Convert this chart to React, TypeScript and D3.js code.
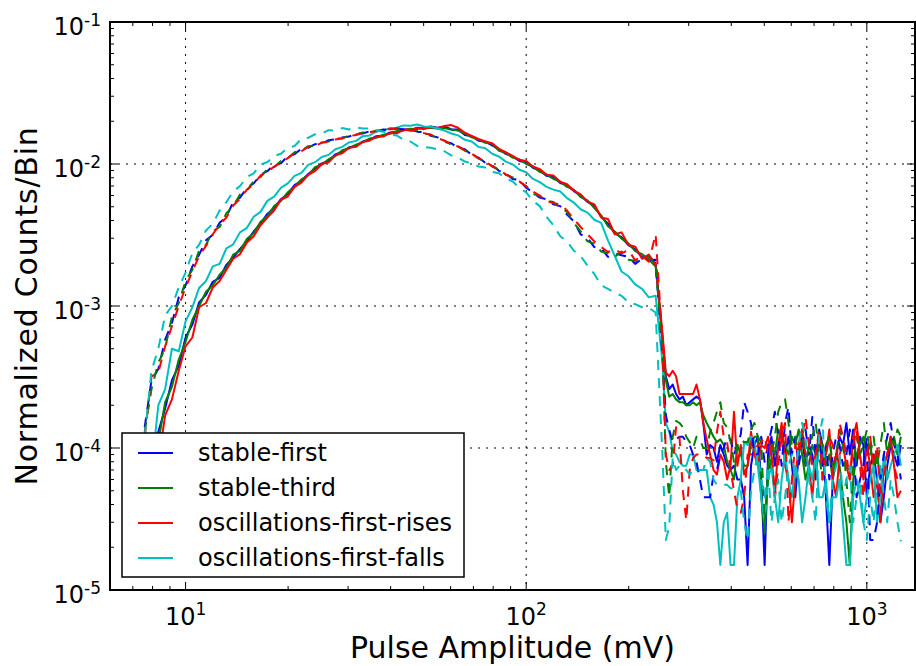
import React from 'react';
import * as d3 from 'd3';

// Bin centres (mV), log-spaced histogram bins
const BIN_MV = [
  7.586, 7.943, 8.318, 8.710, 9.120, 9.550, 10.00, 10.47, 10.96, 11.48,
  12.02, 12.59, 13.18, 13.80, 14.45, 15.14, 15.85, 16.60, 17.38, 18.20,
  19.05, 19.95, 20.89, 21.88, 22.91, 23.99, 25.12, 26.30, 27.54, 28.84,
  30.20, 31.62, 33.11, 34.67, 36.31, 38.02, 39.81, 41.69, 43.65, 45.71,
  47.86, 50.12, 52.48, 54.95, 57.54, 60.26, 63.10, 66.07, 69.18, 72.44,
  75.86, 79.43, 83.18, 87.10, 91.20, 95.50, 100.0, 104.7, 109.6, 114.8,
  120.2, 125.9, 131.8, 138.0, 144.5, 151.4, 158.5, 166.0, 173.8, 182.0,
  190.5, 199.5, 208.9, 218.8, 229.1, 239.9, 251.2,
  257.0, 263.0, 269.2, 275.4, 281.8, 288.4, 295.1, 302.0, 309.0, 316.2,
  323.6, 331.1, 338.8, 346.7, 354.8, 363.1, 371.5, 380.2, 389.0, 398.1,
  407.4, 416.9, 426.6, 436.5, 446.7, 457.1, 467.7, 478.6, 489.8, 501.2,
  512.9, 524.8, 537.0, 549.5, 562.3, 575.4, 588.8, 602.6, 616.6, 631.0,
  645.7, 660.7, 676.1, 691.8, 707.9, 724.4, 741.3, 758.6, 776.2, 794.3,
  812.8, 831.8, 851.1, 871.0, 891.3, 912.0, 933.3, 955.0, 977.2, 1000,
  1023, 1047, 1072, 1096, 1122, 1148, 1175, 1202, 1230, 1259,
];

// Normalized counts per bin, in units of 1e-5
const UNIT = 1e-5;

const stableFirstSolid = [
  2, 4, 13, 19, 30, 38, 60, 74, 106, 120,
  148, 158, 195, 220, 252, 285, 335, 380, 445, 490,
  565, 615, 710, 760, 850, 925, 1010, 1050, 1170, 1220,
  1310, 1340, 1440, 1480, 1570, 1580, 1670, 1690, 1760, 1740,
  1800, 1790, 1840, 1800, 1830, 1760, 1750, 1600, 1570, 1460,
  1440, 1350, 1270, 1180, 1130, 1050, 1030, 940, 900, 825,
  810, 735, 710, 645, 600, 540, 505, 425, 380, 325,
  305, 268, 252, 220, 225, 200, 60,
  32, 26, 28, 24, 22, 23, 20, 21, 22, 23,
  22, 15, 9, 10.5, 10, 8, 10.5, 9, 7.5, 7,
  7.5, 6, 6, 4.5, 1.5, 7.5, 10.5, 12, 6, 1.5,
  9, 12, 7.5, 10.5, 13.5, 9, 12, 7.5, 4.5, 9,
  12, 7.5, 10.5, 9, 6, 13.5, 10.5, 4.5, 1.5, 6,
  9, 12, 10.5, 15, 9, 13.5, 7.5, 12, 10.5, 4.5,
  7.5, 9, 6, 3, 4.5, 7.5, 10.5, 9, 7.5, 10.5,
];

const stableThirdSolid = [
  1.5, 3.5, 11, 21, 27, 42, 56, 80, 100, 126,
  140, 166, 186, 230, 244, 298, 325, 392, 430, 505,
  550, 632, 690, 780, 830, 950, 990, 1080, 1140, 1250,
  1290, 1370, 1420, 1510, 1530, 1610, 1630, 1700, 1720, 1770,
  1760, 1800, 1790, 1780, 1790, 1740, 1720, 1640, 1540, 1490,
  1410, 1390, 1240, 1200, 1110, 1080, 1000, 960, 880, 845,
  785, 750, 690, 660, 585, 555, 490, 435, 365, 335,
  298, 276, 244, 232, 212, 190, 58,
  30, 23, 24, 22, 21, 21, 20, 20, 21, 20,
  21, 17, 15, 13.5, 12, 11, 11.5, 10.5, 8, 7,
  6, 10.5, 9, 7.5, 7.5, 10.5, 12, 12, 4.5, 2.5,
  7.5, 10.5, 9, 13.5, 12, 10.5, 9, 12, 10.5, 13.5,
  9, 6, 7.5, 10.5, 9, 12, 10.5, 7.5, 9, 6,
  9, 7.5, 4.5, 3, 1.5, 6, 9, 10.5, 12, 9,
  10.5, 7.5, 9, 6, 7.5, 9, 10.5, 12, 9, 12,
];

const risesSolid = [
  1.6, 2.5, 8, 17, 22, 35, 52, 60, 98, 105,
  135, 150, 180, 215, 232, 280, 310, 370, 420, 470,
  560, 590, 690, 740, 840, 890, 1000, 1030, 1150, 1190,
  1300, 1320, 1430, 1460, 1550, 1560, 1650, 1640, 1740, 1720,
  1790, 1760, 1820, 1790, 1850, 1880, 1800, 1660, 1580, 1500,
  1440, 1400, 1280, 1210, 1140, 1070, 1050, 960, 920, 840,
  830, 750, 720, 650, 610, 545, 520, 420, 410, 320,
  330, 270, 262, 215, 230, 195, 65,
  34, 32, 35, 32, 24, 24, 24, 24, 24, 28,
  22, 15, 11.5, 9, 7, 6.5, 9, 8, 6, 7.5,
  18, 7.5, 10.5, 6.5, 7.5, 13, 9, 7.5, 10.5, 10,
  12, 9, 4.5, 10.5, 15, 7.5, 6, 3, 6, 10.5,
  13.5, 9, 7.5, 4.5, 9, 12, 7.5, 9, 13.5, 6,
  4.5, 9, 10.5, 7.5, 6, 12, 15, 9, 6, 10.5,
  7.5, 4.5, 6, 3, 7.5, 9, 12, 7.5, 4.5, 5,
];

const fallsSolid = [
  4, 7, 20, 26, 50, 48, 78, 98, 134, 150,
  190, 198, 255, 272, 330, 355, 425, 460, 550, 590,
  680, 730, 825, 865, 985, 1030, 1120, 1160, 1270, 1320,
  1420, 1450, 1570, 1590, 1700, 1720, 1790, 1800, 1870, 1860,
  1900, 1840, 1830, 1780, 1720, 1640, 1590, 1480, 1440, 1320,
  1290, 1180, 1130, 1040, 995, 910, 875, 785, 745, 690,
  660, 640, 575, 535, 480, 455, 405, 385, 290, 225,
  175, 162, 142, 132, 115, 118, 40,
  15, 13, 9.5, 9, 8, 7.5, 7.5, 9, 9, 7,
  7, 7, 7, 4.5, 4, 3, 1.5, 3, 3.5, 1.5,
  1.5, 4.5, 6, 11, 10.5, 12, 11, 7.5, 4.5, 3,
  6, 7.5, 4.5, 3, 6, 9, 6, 4.5, 7.5, 6,
  3, 4.5, 7.5, 6, 9, 4.5, 4.5, 6, 3, 4.5,
  4.5, 6, 3, 1.5, 1.5, 4.5, 6, 4.5, 3, 4.5,
  6, 7.5, 3, 4.5, 9, 6, 7.5, 9, 10.5, 7.5,
];

const stableFirstDashed = [
  14, 30, 36, 58, 76, 115, 140, 190, 230, 290,
  318, 385, 425, 540, 580, 680, 730, 840, 890, 990,
  1010, 1140, 1170, 1280, 1300, 1380, 1390, 1470, 1490, 1540,
  1560, 1640, 1640, 1700, 1690, 1750, 1740, 1780, 1750, 1750,
  1690, 1670, 1580, 1540, 1430, 1400, 1300, 1270, 1160, 1110,
  1020, 980, 895, 860, 785, 770, 680, 630, 580, 565,
  520, 505, 440, 395, 320, 300, 260, 255, 222, 235,
  228, 222, 198, 215, 210, 212, 45,
  17, 13.4, 11, 11.5, 12, 12, 11, 10.5, 9, 8,
  6, 4.5, 4.5, 4.5, 6.5, 7, 9, 10, 12, 11.5,
  9, 10.5, 12.5, 21, 18, 15, 9, 9, 12, 8,
  10.5, 13.5, 18, 12, 7.5, 15, 19.5, 9, 12, 7.5,
  10.5, 13.5, 9, 16.5, 9, 12, 7.5, 10.5, 6, 9,
  12, 10.5, 7.5, 9, 13.5, 10.5, 4.5, 6, 7.5, 12,
  2.25, 2.25, 3, 6, 9, 12, 15, 10.5, 9, 6,
];

const stableThirdDashed = [
  13, 26, 40, 50, 84, 105, 150, 180, 245, 270,
  335, 360, 450, 505, 610, 650, 760, 810, 920, 950,
  1050, 1100, 1210, 1240, 1335, 1350, 1420, 1440, 1510, 1510,
  1590, 1610, 1670, 1660, 1720, 1720, 1770, 1750, 1760, 1720,
  1720, 1640, 1610, 1510, 1460, 1370, 1330, 1240, 1190, 1090,
  1045, 960, 915, 840, 805, 750, 700, 615, 595, 550,
  540, 490, 460, 385, 335, 285, 275, 242, 235, 222,
  242, 212, 208, 205, 222, 198, 50,
  8, 4.5, 12, 15.5, 15, 14, 12, 11, 10, 12,
  11.5, 10, 10, 13, 15, 18, 21, 15, 14, 11,
  8, 10.5, 11.5, 11, 11, 13.5, 15, 12, 11, 3,
  6, 9, 12, 18, 21, 22, 15, 10.5, 12, 9,
  13.5, 7.5, 10.5, 12, 15, 9, 6, 10.5, 12, 7.5,
  9, 13.5, 10.5, 6, 3, 7.5, 12, 9, 10.5, 13.5,
  9, 12, 7.5, 10.5, 15, 9, 12, 10.5, 13.5, 12,
];

const risesDashed = [
  12, 32, 34, 52, 72, 100, 135, 175, 225, 265,
  320, 375, 420, 510, 570, 660, 720, 830, 880, 960,
  1020, 1100, 1190, 1230, 1320, 1340, 1410, 1430, 1490, 1520,
  1570, 1600, 1650, 1680, 1700, 1740, 1760, 1770, 1770, 1730,
  1720, 1650, 1610, 1520, 1460, 1370, 1330, 1250, 1180, 1100,
  1040, 965, 910, 845, 800, 755, 695, 640, 600, 550,
  530, 520, 470, 410, 360, 320, 285, 260, 240, 250,
  235, 248, 210, 225, 205, 320, 55,
  9, 7, 7.5, 14, 12, 5, 3.1, 7, 8.5, 9,
  9, 9, 8.5, 8.5, 8.2, 13, 18, 12, 11, 7,
  5, 3.7, 3.5, 4.5, 9, 9, 9.5, 10.5, 11, 12,
  9, 10.5, 4.5, 7.5, 12, 15, 3, 6, 10.5, 9,
  12, 16.5, 10.5, 7.5, 9, 13.5, 6, 9, 12, 10.5,
  7.5, 15, 12, 9, 6, 10.5, 13.5, 7.5, 4.5, 9,
  12, 7.5, 10.5, 4.5, 6, 9, 12, 7.5, 6, 6,
];

const fallsDashed = [
  12, 35, 50, 86, 100, 135, 172, 236, 270, 340,
  380, 470, 540, 640, 700, 810, 860, 990, 1030, 1140,
  1180, 1300, 1340, 1500, 1530, 1620, 1640, 1730, 1720, 1790,
  1750, 1810, 1780, 1780, 1720, 1690, 1610, 1590, 1480, 1440,
  1340, 1320, 1300, 1270, 1230, 1150, 1110, 1040, 1010, 960,
  945, 880, 860, 790, 755, 680, 630, 550, 505, 425,
  370, 310, 285, 245, 225, 192, 168, 140, 132, 124,
  118, 106, 103, 98, 97, 90, 9,
  2.25, 2.8, 8.5, 7, 7.5, 7.5, 7, 6.5, 7, 7,
  7, 7, 8.5, 8, 6, 5.5, 5.5, 5.5, 5.5, 5.2,
  5.2, 5, 5, 3, 2.25, 5, 7, 9, 6, 4.5,
  7.5, 3, 4.5, 6, 3, 4.5, 7.5, 9, 6, 10.5,
  15, 12, 6, 4.5, 3, 12, 16, 4.5, 3, 6,
  7.5, 9, 4.5, 6, 7.5, 3, 4.5, 6, 3, 2.25,
  4.5, 3, 6, 7.5, 4.5, 3, 6, 4.5, 3, 2.2,
];

const SERIES_NAMES = ['stable-first', 'stable-third', 'oscillations-first-rises', 'oscillations-first-falls'];
const SERIES_COLORS = ['#0000ff', '#008000', '#ff0000', '#00bfbf'];
const SOLID = [stableFirstSolid, stableThirdSolid, risesSolid, fallsSolid];
const DASHED = [stableFirstDashed, stableThirdDashed, risesDashed, fallsDashed];

const X_MAJOR_EXP = [1, 2, 3];
const Y_MAJOR_EXP = [-5, -4, -3, -2, -1];

const W = 916;
const H = 666;
const L = 110, R = 915, T = 22, B = 590;
const FONT = 'DejaVu Sans, Bitstream Vera Sans, sans-serif';

export default function App() {
  const x = d3.scaleLog().domain([6, 1385]).range([L, R]);
  const y = d3.scaleLog().domain([1e-5, 1e-1]).range([B, T]);

  const toPts = (vals: number[]) => {
    const n = Math.min(vals.length, BIN_MV.length);
    const pts: [number, number][] = [];
    for (let i = 0; i < n; i++) pts.push([BIN_MV[i], vals[i] * UNIT]);
    return pts;
  };
  const line = d3
    .line<[number, number]>()
    .x((d) => x(d[0]))
    .y((d) => y(d[1]));

  const [x0, x1] = x.domain();
  const xMinor: number[] = [];
  const xMajor: number[] = [];
  for (let e = 0; e <= 3; e++) {
    for (let m = 1; m <= 9; m++) {
      const v = m * Math.pow(10, e);
      if (v < x0 || v > x1) continue;
      if (m === 1) xMajor.push(v);
      else xMinor.push(v);
    }
  }
  const yMinor: number[] = [];
  for (let e = -5; e < -1; e++) {
    for (let m = 2; m <= 9; m++) yMinor.push(m * Math.pow(10, e));
  }
  const yMajor = Y_MAJOR_EXP.map((e) => Math.pow(10, e));

  const MAJ = 8, MIN = 4;

  return (
    <svg
      width={W}
      height={H}
      viewBox={`0 0 ${W} ${H}`}
      style={{ position: 'absolute', left: 0, top: 0, background: '#fff' }}
      fontFamily={FONT}
    >
      <defs>
        <clipPath id="plotclip">
          <rect x={L} y={T} width={R - L} height={B - T} />
        </clipPath>
      </defs>
      <rect x={0} y={0} width={W} height={H} fill="#fff" />

      {/* grid */}
      <g stroke="#000" strokeWidth={1} strokeDasharray="2,6" fill="none">
        {X_MAJOR_EXP.map((e) => {
          const px = x(Math.pow(10, e));
          return <line key={'gx' + e} x1={px} x2={px} y1={T} y2={B} />;
        })}
        {yMajor.slice(1, -1).map((v, i) => (
          <line key={'gy' + i} x1={L} x2={R} y1={y(v)} y2={y(v)} />
        ))}
      </g>

      {/* data */}
      <g clipPath="url(#plotclip)" fill="none" strokeWidth={2} strokeLinejoin="round">
        {SOLID.map((vals, i) => (
          <path key={'s' + i} d={line(toPts(vals)) || ''} stroke={SERIES_COLORS[i]} />
        ))}
        {DASHED.map((vals, i) => (
          <path
            key={'d' + i}
            d={line(toPts(vals)) || ''}
            stroke={SERIES_COLORS[i]}
            strokeDasharray="10,8"
          />
        ))}
      </g>

      {/* ticks */}
      <g stroke="#000" strokeWidth={1}>
        {xMajor.map((v, i) => (
          <g key={'xM' + i}>
            <line x1={x(v)} x2={x(v)} y1={B} y2={B - MAJ} />
            <line x1={x(v)} x2={x(v)} y1={T} y2={T + MAJ} />
          </g>
        ))}
        {xMinor.map((v, i) => (
          <g key={'xm' + i}>
            <line x1={x(v)} x2={x(v)} y1={B} y2={B - MIN} />
            <line x1={x(v)} x2={x(v)} y1={T} y2={T + MIN} />
          </g>
        ))}
        {yMajor.map((v, i) => (
          <g key={'yM' + i}>
            <line x1={L} x2={L + MAJ} y1={y(v)} y2={y(v)} />
            <line x1={R} x2={R - MAJ} y1={y(v)} y2={y(v)} />
          </g>
        ))}
        {yMinor.map((v, i) => (
          <g key={'ym' + i}>
            <line x1={L} x2={L + MIN} y1={y(v)} y2={y(v)} />
            <line x1={R} x2={R - MIN} y1={y(v)} y2={y(v)} />
          </g>
        ))}
      </g>

      {/* frame */}
      <rect x={L} y={T} width={R - L} height={B - T} fill="none" stroke="#000" strokeWidth={2} />

      {/* tick labels */}
      <g fill="#000" fontSize={24}>
        {X_MAJOR_EXP.map((e) => (
          <text key={'xl' + e} x={x(Math.pow(10, e))} y={625} textAnchor="middle">
            10<tspan dy={-10} fontSize={17}>{String(e)}</tspan>
          </text>
        ))}
        {Y_MAJOR_EXP.map((e) => (
          <text key={'yl' + e} x={101} y={y(Math.pow(10, e)) + 13} textAnchor="end">
            10<tspan dy={-9} fontSize={17}>{String(e)}</tspan>
          </text>
        ))}
      </g>

      {/* axis labels */}
      <text x={(L + R) / 2} y={658} textAnchor="middle" fontSize={30} fill="#000">
        Pulse Amplitude (mV)
      </text>
      <text
        transform={`translate(37, ${(T + B) / 2}) rotate(-90)`}
        textAnchor="middle"
        fontSize={30}
        letterSpacing={0.8}
        fill="#000"
      >
        Normalized Counts/Bin
      </text>

      {/* legend */}
      <g>
        <rect x={122} y={433} width={342} height={144} fill="#fff" stroke="#000" strokeWidth={1.5} />
        {SERIES_NAMES.map((name, i) => {
          const cy = 453 + i * 35;
          return (
            <g key={'lg' + i}>
              <line x1={138} x2={173} y1={cy} y2={cy} stroke={SERIES_COLORS[i]} strokeWidth={2} />
              <text x={198} y={cy + 8} fontSize={24} fill="#000">
                {name}
              </text>
            </g>
          );
        })}
      </g>
    </svg>
  );
}
